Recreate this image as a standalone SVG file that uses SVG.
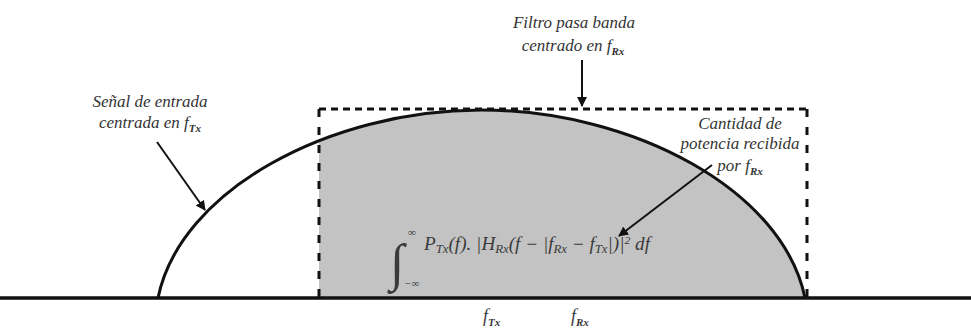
<svg xmlns="http://www.w3.org/2000/svg" width="971" height="335" viewBox="0 0 971 335">
<style>
.lbl{font-family:"Liberation Serif","DejaVu Serif",serif;font-style:italic;font-size:17px;fill:#333;text-anchor:middle}
.sub{font-size:11px;font-weight:bold}
.math{font-family:"Liberation Serif","DejaVu Serif",serif;font-style:italic;font-size:18px;fill:#3a3a3a}
.msub{font-size:12px}
.arrow{stroke:#111;stroke-width:2;fill:none;marker-end:url(#ah)}
.dash{stroke:#111;stroke-width:3;fill:none}
</style>
<defs>
<marker id="ah" viewBox="0 0 10 10" refX="9" refY="5" markerWidth="5" markerHeight="5" orient="auto" markerUnits="strokeWidth">
<path d="M0,0 L10,5 L0,10 z" fill="#111"/>
</marker>
<clipPath id="rectclip"><rect x="319" y="108" width="488" height="190"/></clipPath>
</defs>
<rect width="971" height="335" fill="#fff"/>
<g id="spectrum">
<path d="M158,298 C180,190 330,110 481,110 C633,110 783,190 805,298 Z" fill="#c3c3c3" clip-path="url(#rectclip)"/>
<path d="M158,298 C180,190 330,110 481,110 C633,110 783,190 805,298" fill="none" stroke="#111" stroke-width="3"/>
</g>
<g id="filter">
<line class="dash" x1="319" y1="109" x2="807" y2="109" stroke-dasharray="7 5"/>
<line class="dash" x1="319" y1="109" x2="319" y2="298" stroke-dasharray="8 10"/>
<line class="dash" x1="807" y1="109" x2="807" y2="298" stroke-dasharray="8 10"/>
</g>
<g id="axis">
<line x1="0" y1="298" x2="971" y2="298" stroke="#111" stroke-width="3.5"/>
</g>
<g id="label-input">
<text class="lbl" x="150" y="107">Señal de entrada</text>
<text class="lbl" x="150" y="128">centrada en <tspan>f</tspan><tspan class="sub" dy="4">Tx</tspan></text>
</g>
<g id="label-filter">
<text class="lbl" x="574" y="28">Filtro pasa banda</text>
<text class="lbl" x="573" y="51">centrado en <tspan>f</tspan><tspan class="sub" dy="4">Rx</tspan></text>
</g>
<g id="label-power">
<text class="lbl" x="740" y="129">Cantidad de</text>
<text class="lbl" x="740" y="149">potencia recibida</text>
<text class="lbl" x="740" y="171">por <tspan>f</tspan><tspan class="sub" dy="4">Rx</tspan></text>
</g>
<g id="formula">
<text class="math" x="390" y="280" style="font-size:52px;font-style:normal;font-weight:300">∫</text>
<text class="math" x="408" y="236" style="font-size:11px">∞</text>
<text class="math" x="404" y="287" style="font-size:11px">−∞</text>
<text class="math" x="424" y="250" textLength="226" lengthAdjust="spacingAndGlyphs">P<tspan class="msub" dy="3">Tx</tspan><tspan dy="-3">(f). |H</tspan><tspan class="msub" dy="3">Rx</tspan><tspan dy="-3">(f − |f</tspan><tspan class="msub" dy="3">Rx</tspan><tspan dy="-3"> − f</tspan><tspan class="msub" dy="3">Tx</tspan><tspan dy="-3">|)|</tspan><tspan style="font-size:11px" dy="-6">2</tspan><tspan dy="6"> df</tspan></text>
</g>
<g id="ticks">
<text class="math" x="483" y="322">f<tspan class="sub" dy="4">Tx</tspan></text>
<text class="math" x="571" y="322">f<tspan class="sub" dy="4">Rx</tspan></text>
</g>
<g id="connectors">
<line class="arrow" x1="157" y1="142" x2="205" y2="210"/>
<line class="arrow" x1="582" y1="60" x2="582" y2="106"/>
<line class="arrow" x1="712" y1="165" x2="619" y2="236"/>
</g>
</svg>
